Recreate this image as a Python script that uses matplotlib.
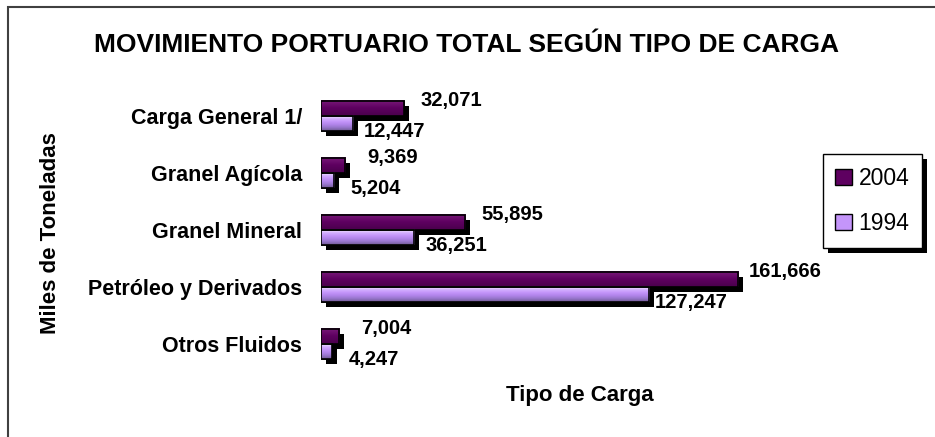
import numpy as np
import matplotlib.pyplot as plt
from matplotlib import patheffects as pe
from matplotlib.colors import LinearSegmentedColormap
from matplotlib.patches import Patch, Rectangle

categorias = ['Carga General 1/', 'Granel Agícola', 'Granel Mineral',
              'Petróleo y Derivados', 'Otros Fluidos']
carga_2004 = [32071, 9369, 55895, 161666, 7004]
carga_1994 = [12447, 5204, 36251, 127247, 4247]
series = ['2004', '1994']

plt.rcParams['font.family'] = ['Liberation Sans', 'DejaVu Sans']

# degradados tipo Excel para cada serie
cmap_04 = LinearSegmentedColormap.from_list('c04', ['#7a1a7a', '#5e0060', '#4a004c'])
cmap_94 = LinearSegmentedColormap.from_list('c94', ['#ffffff', '#d6b4ff', '#c495fa',
                                                   '#b184ea', '#9474c8', '#6e5890'])

fig = plt.figure(figsize=(9.35, 4.37), dpi=100)
ax = fig.add_axes([0.3433, 0.1476, 0.5123, 0.652])
ax.patch.set_visible(False)

y = np.arange(len(categorias))
h = 0.265
sombra = [pe.withSimplePatchShadow(offset=(3.6, -3.6), shadow_rgbFace='black', alpha=1)]

b04 = ax.barh(y - h / 2, carga_2004, height=h, color='#5e0060',
              edgecolor='black', lw=1.2, zorder=2)
b94 = ax.barh(y + h / 2, carga_1994, height=h, color='#c495fa',
              edgecolor='black', lw=1.2, zorder=2)

grad = np.linspace(0, 1, 64).reshape(-1, 1)
for bars, cm in ((b04, cmap_04), (b94, cmap_94)):
    for bar in bars:
        bar.set_path_effects(sombra)
        x0, y0 = bar.get_x(), bar.get_y()
        w, hh = bar.get_width(), bar.get_height()
        ax.imshow(grad, cmap=cm, extent=(x0, x0 + w, y0 + hh, y0), origin='upper',
                  aspect='auto', clip_path=bar, zorder=3, interpolation='bilinear')
ax.barh(y - h / 2, carga_2004, height=h, fill=False, edgecolor='black', lw=1.2, zorder=4)
ax.barh(y + h / 2, carga_1994, height=h, fill=False, edgecolor='black', lw=1.2, zorder=4)

# etiquetas de datos
for yi, v in zip(y, carga_2004):
    ax.annotate(f'{v:,}', xy=(v, yi - h / 2), xytext=(34, 6), textcoords='offset points',
                ha='center', va='center', fontsize=14.5, fontweight='bold')
for yi, v in zip(y, carga_1994):
    ax.annotate(f'{v:,}', xy=(v, yi + h / 2), xytext=(30, -6), textcoords='offset points',
                ha='center', va='center', fontsize=14.5, fontweight='bold')

ax.set_xlim(0, 185700)
ax.set_ylim(len(categorias) - 0.5, -0.5)
ax.set_xticks([])
ax.set_yticks(y, categorias, fontsize=15.5, fontweight='bold')
ax.tick_params(left=False, pad=10)
for s in ax.spines.values():
    s.set_visible(False)

handles = [Patch(facecolor='#5e0060', edgecolor='black'),
           Patch(facecolor='#c495fa', edgecolor='black')]
leg = fig.legend(handles, series, loc='center', bbox_to_anchor=(0.933, 0.54),
                 frameon=True, fancybox=False, edgecolor='black', framealpha=1,
                 fontsize=16.5, handlelength=0.7, handleheight=0.7, handletextpad=0.3,
                 labelspacing=1.0, borderpad=0.55, borderaxespad=0)
leg.get_frame().set_linewidth(1.0)
leg.get_frame().set_path_effects(sombra)

fig.text(466 / 935, 1 - 45 / 437, 'MOVIMIENTO PORTUARIO TOTAL SEGÚN TIPO DE CARGA',
         ha='center', va='center', fontsize=19, fontweight='bold')
fig.text(580 / 935, 1 - 395 / 437, 'Tipo de Carga',
         ha='center', va='center', fontsize=16, fontweight='bold')
fig.text(51 / 935, 1 - 233 / 437, 'Miles de Toneladas', rotation=90,
         ha='center', va='center', fontsize=16, fontweight='bold')

fig.add_artist(Rectangle((7.5 / 935, -0.1), 1.2, 1.1 - 7.5 / 437, transform=fig.transFigure,
                         fill=False, edgecolor='#404040', lw=1.5))

fig.savefig('out.png', dpi=100)
